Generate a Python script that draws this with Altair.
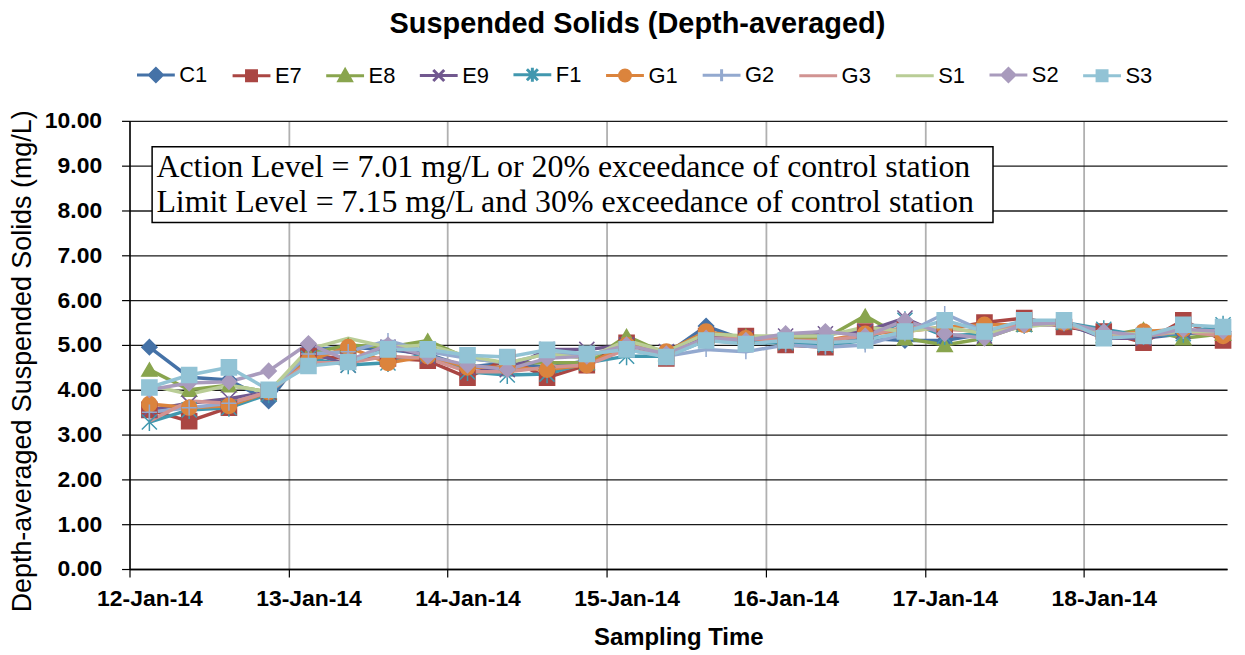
import altair as alt
import pandas as pd

TITLE = "Suspended Solids (Depth-averaged)"
X_TITLE = "Sampling Time"
Y_TITLE = "Depth-averaged Suspended Solids  (mg/L)"
NOTE_1 = "Action Level = 7.01 mg/L or 20% exceedance of control station"
NOTE_2 = "Limit Level = 7.15 mg/L and 30% exceedance of control station"

STATIONS = ["C1", "E7", "E8", "E9", "F1", "G1", "G2", "G3", "S1", "S2", "S3"]
COLORS = ["#4572A7", "#AA4643", "#89A54E", "#71588F", "#4198AF", "#DB843D",
          "#93A9CF", "#D19392", "#B9CD96", "#A99BBD", "#92C3D5"]

DAYS = ["2014-01-12", "2014-01-13", "2014-01-14", "2014-01-15",
        "2014-01-16", "2014-01-17", "2014-01-18"]
HOURS = ["03:00", "09:00", "15:00", "21:00"]
TIMES = [f"{d}T{h}:00" for d in DAYS for h in HOURS]

C1 = [4.95, 4.28, 4.22, 3.75, 4.90, 4.95, 4.90, 4.80, 4.50, 4.60, 4.50, 4.65, 5.00, 4.80,
      5.42, 5.10, 5.10, 5.05, 5.15, 5.10, 5.10, 5.25, 5.45, 5.45, 5.20, 5.15, 5.25, 5.30]
E7 = [3.55, 3.30, 3.60, 3.95, 4.75, 4.70, 4.70, 4.65, 4.27, 4.70, 4.27, 4.55, 5.05, 4.70,
      5.20, 5.20, 5.00, 4.95, 5.30, 5.35, 5.35, 5.50, 5.60, 5.40, 5.30, 5.05, 5.55, 5.10]
E8 = [4.45, 4.00, 4.10, 3.95, 4.80, 5.00, 4.95, 5.10, 4.70, 4.60, 4.60, 4.60, 5.20, 4.80,
      5.20, 5.20, 5.15, 5.15, 5.65, 5.15, 5.00, 5.15, 5.45, 5.50, 5.20, 5.35, 5.15, 5.25]
E9 = [3.55, 3.70, 3.80, 3.95, 4.85, 4.55, 4.95, 4.75, 4.50, 4.45, 4.90, 4.90, 5.00, 4.85,
      5.20, 5.15, 5.20, 5.25, 5.30, 5.60, 5.20, 5.20, 5.50, 5.50, 5.15, 5.15, 5.30, 5.35]
F1 = [3.28, 3.55, 3.60, 3.90, 4.70, 4.55, 4.60, 4.80, 4.40, 4.33, 4.35, 4.60, 4.75, 4.75,
      5.10, 5.05, 5.05, 5.00, 5.10, 5.55, 5.20, 5.25, 5.45, 5.50, 5.35, 5.20, 5.25, 5.45]
G1 = [3.68, 3.60, 3.64, 3.95, 4.65, 4.95, 4.60, 4.75, 4.50, 4.50, 4.45, 4.55, 5.00, 4.85,
      5.30, 5.15, 5.10, 5.10, 5.25, 5.30, 5.40, 5.45, 5.45, 5.50, 5.20, 5.30, 5.35, 5.20]
G2 = [3.50, 3.60, 3.70, 3.95, 4.80, 4.85, 5.10, 4.85, 4.70, 4.60, 4.80, 4.80, 4.90, 4.75,
      4.90, 4.85, 5.00, 4.95, 5.00, 5.25, 5.70, 5.30, 5.50, 5.50, 5.25, 5.20, 5.30, 5.30]
G3 = [3.30, 3.75, 3.70, 3.95, 4.60, 4.60, 4.75, 4.70, 4.40, 4.40, 4.50, 4.55, 4.90, 4.75,
      5.15, 5.15, 5.10, 5.10, 5.20, 5.40, 5.35, 5.30, 5.45, 5.45, 5.25, 5.20, 5.30, 5.20]
S1 = [4.10, 3.90, 4.10, 3.95, 4.90, 5.15, 4.95, 5.00, 4.75, 4.60, 4.80, 4.70, 5.10, 4.85,
      5.25, 5.20, 5.20, 5.20, 5.40, 5.30, 5.40, 5.25, 5.40, 5.50, 5.25, 5.25, 5.30, 5.30]
S2 = [4.00, 4.15, 4.18, 4.42, 5.03, 4.65, 5.00, 4.75, 4.55, 4.45, 4.70, 4.75, 5.00, 4.80,
      5.15, 5.10, 5.25, 5.30, 5.20, 5.55, 5.25, 5.15, 5.45, 5.50, 5.30, 5.20, 5.35, 5.30]
S3 = [4.05, 4.33, 4.50, 4.00, 4.53, 4.62, 4.90, 4.90, 4.77, 4.73, 4.89, 4.80, 4.90, 4.73,
      5.10, 5.02, 5.10, 5.05, 5.10, 5.30, 5.55, 5.30, 5.55, 5.55, 5.15, 5.20, 5.45, 5.40]

SERIES = {"C1": C1, "E7": E7, "E8": E8, "E9": E9, "F1": F1, "G1": G1,
          "G2": G2, "G3": G3, "S1": S1, "S2": S2, "S3": S3}

Y_TICKS = [0, 1, 2, 3, 4, 5, 6, 7, 8, 9, 10]

# marker definitions (stations G3 and S1 have no markers)
X_PATH = "M-1,-1L1,1M-1,1L1,-1"
STAR_PATH = "M-1,-1L1,1M-1,1L1,-1M0,-1.2L0,1.2"
PLUS_PATH = "M-1,0L1,0M0,-1L0,1"
MARKER_STATIONS = ["C1", "E7", "E8", "E9", "F1", "G1", "G2", "S2", "S3"]
MARKER_SHAPES = ["diamond", "square", "triangle-up", X_PATH, STAR_PATH, "circle",
                 PLUS_PATH, "diamond", "square"]
MARKER_COLORS = [COLORS[STATIONS.index(s)] for s in MARKER_STATIONS]
HOLLOW = ["E9", "F1", "G2"]
MARKER_FILLS = ["transparent" if s in HOLLOW else c
                for s, c in zip(MARKER_STATIONS, MARKER_COLORS)]

# legend symbols: a line segment with the marker in its middle
LINE_SEG = "M-1.9,0L1.9,0"
LEGEND_PATHS = {
    "C1": LINE_SEG + "M0,-0.65L0.65,0L0,0.65L-0.65,0Z",
    "E7": LINE_SEG + "M-0.5,-0.5L0.5,-0.5L0.5,0.5L-0.5,0.5Z",
    "E8": LINE_SEG + "M0,-0.6L0.62,0.5L-0.62,0.5Z",
    "E9": LINE_SEG + "M-0.55,-0.55L0.55,0.55M-0.55,0.55L0.55,-0.55",
    "F1": LINE_SEG + "M-0.55,-0.55L0.55,0.55M-0.55,0.55L0.55,-0.55M0,-0.7L0,0.7",
    "G1": LINE_SEG + "M0.55,0A0.55,0.55,0,1,1,-0.55,0A0.55,0.55,0,1,1,0.55,0Z",
    "G2": LINE_SEG + "M0,-0.6L0,0.6",
    "G3": LINE_SEG,
    "S1": LINE_SEG,
    "S2": LINE_SEG + "M0,-0.65L0.65,0L0,0.65L-0.65,0Z",
    "S3": LINE_SEG + "M-0.5,-0.5L0.5,-0.5L0.5,0.5L-0.5,0.5Z",
}
LEGEND_FILLED = ["C1", "E7", "E8", "G1", "S2", "S3"]


def chain(mapping, default):
    parts = [f"datum.value === '{k}' ? '{v}'" for k, v in mapping.items()]
    return " : ".join(parts) + f" : '{default}'"


shape_expr = chain(LEGEND_PATHS, LINE_SEG)
fill_expr = chain({s: (COLORS[STATIONS.index(s)] if s in LEGEND_FILLED else "transparent")
                   for s in STATIONS}, "transparent")

rows = []
for s in STATIONS:
    for t, v in zip(TIMES, SERIES[s]):
        rows.append({"time": t, "station": s, "value": v})
df = pd.DataFrame(rows)

x_enc = alt.X(
    "time:T",
    title=X_TITLE,
    scale=alt.Scale(domain=[alt.DateTime(year=2014, month=1, date=12),
                            alt.DateTime(year=2014, month=1, date=18, hours=21, minutes=36)]),
    axis=alt.Axis(
        values=[alt.DateTime(year=2014, month=1, date=int(d[-2:])) for d in DAYS],
        format="%d-%b-%y", labelFlush=False, labelOffset=20,
        labelFont="Liberation Sans", labelFontWeight="bold", labelFontSize=23,
        labelColor="black", labelPadding=11,
        tickSize=8, tickColor="black", tickWidth=1.2,
        domainColor="black", domainWidth=1.5,
        grid=True, gridColor="#b0b0b0", gridWidth=1.8,
        titleFont="Liberation Sans", titleFontWeight="bold", titleFontSize=24,
        titleColor="black", titlePadding=15,
    ),
)
y_enc = alt.Y(
    "value:Q",
    title=Y_TITLE,
    scale=alt.Scale(domain=[0, 10], nice=False),
    axis=alt.Axis(
        values=Y_TICKS, format=".2f",
        labelFont="Liberation Sans", labelFontWeight="bold", labelFontSize=23,
        labelColor="black", labelPadding=20,
        tickSize=8, tickColor="black", tickWidth=1.2,
        domainColor="black", domainWidth=1.5,
        grid=True, gridColor="#1a1a1a", gridWidth=1.3,
        titleFont="Liberation Sans", titleFontWeight="normal", titleFontSize=27,
        titleColor="black", titleX=-93, titleY=241,
    ),
)

legend = alt.Legend(
    title=None, orient="none", legendX=6, legendY=-58,
    direction="horizontal", columns=11,
    symbolSize=400, symbolOffset=9, labelOffset=12, columnPadding=18,
    labelFont="Liberation Sans", labelFontSize=22, labelColor="black",
    symbolType={"expr": shape_expr},
    symbolFillColor={"expr": fill_expr},
    symbolStrokeWidth=3, symbolOpacity=1,
)

lines = alt.Chart(df).mark_line(strokeWidth=3.5).encode(
    x=x_enc, y=y_enc,
    color=alt.Color("station:N", scale=alt.Scale(domain=STATIONS, range=COLORS),
                    legend=legend),
)

points = alt.Chart(df).transform_filter(
    alt.FieldOneOfPredicate(field="station", oneOf=MARKER_STATIONS)
).mark_point(size=230, strokeWidth=1.5, opacity=1).encode(
    x=x_enc, y=y_enc,
    shape=alt.Shape("station:N", scale=alt.Scale(domain=MARKER_STATIONS, range=MARKER_SHAPES),
                    legend=None),
    fill=alt.Fill("station:N", scale=alt.Scale(domain=MARKER_STATIONS, range=MARKER_FILLS),
                  legend=None),
    stroke=alt.Stroke("station:N", scale=alt.Scale(domain=MARKER_STATIONS, range=MARKER_COLORS),
                      legend=None),
)

one = pd.DataFrame({"k": [0]})
box = alt.Chart(one).mark_rect(fill="white", stroke="black", strokeWidth=1.5).encode(
    x=alt.value(22.7), x2=alt.value(867), y=alt.value(26), y2=alt.value(102)
)
note1 = alt.Chart(one).mark_text(
    align="left", baseline="alphabetic", font="Liberation Serif", fontSize=32, color="black"
).encode(x=alt.value(27), y=alt.value(56.7), text=alt.value(NOTE_1))
note2 = alt.Chart(one).mark_text(
    align="left", baseline="alphabetic", font="Liberation Serif", fontSize=32, color="black"
).encode(x=alt.value(27), y=alt.value(91.7), text=alt.value(NOTE_2))

chart = alt.layer(lines, points, box, note1, note2).resolve_scale(
    shape="independent", fill="independent", stroke="independent"
).properties(
    width=1102, height=450,
    autosize=alt.AutoSizeParams(type="none"),
    padding={"left": 122, "top": 112, "right": 10, "bottom": 80},
    title=alt.TitleParams(TITLE, font="Liberation Sans", fontSize=29, fontWeight="bold",
                          color="black", anchor="middle", dx=-41, offset=24),
).configure_view(stroke=None)

chart.save("out.html", embed_options={"renderer": "svg", "actions": False})
